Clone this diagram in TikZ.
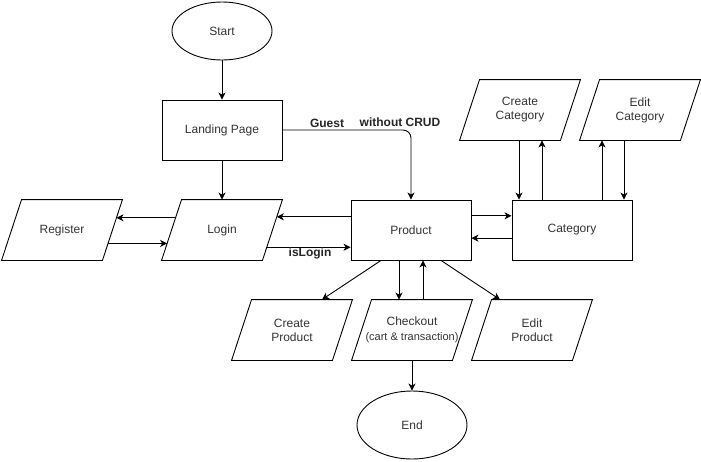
\documentclass[tikz,border=0pt]{standalone}
\usepackage{fontspec}
\setmainfont{Liberation Sans}
\usetikzlibrary{shapes.geometric,arrows.meta,calc}

\begin{document}
\begin{tikzpicture}[x=1pt,y=-1pt,
  caja/.style={draw, line width=0.9pt, minimum width=120pt, minimum height=60pt, inner sep=0pt,
    font=\fontsize{12}{14}\selectfont, text=black!80, align=center},
  datos/.style={caja, draw=none, append after command={\pgfextra{
    \draw[line width=0.9pt] (\tikzlastnode.south west) -- ([xshift=20pt]\tikzlastnode.north west)
      -- (\tikzlastnode.north east) -- ([xshift=-20pt]\tikzlastnode.south east) -- cycle;}}},
  ovalo/.style={caja, ellipse, minimum width=100pt, minimum height=58pt},
  etiqueta/.style={font=\bfseries\fontsize{12}{14}\selectfont, text=black!85, inner sep=0pt},
  flecha/.style={line width=0.9pt, -{Stealth[length=7pt,width=7pt,inset=2pt]}}]
\useasboundingbox (0,0) rectangle (701,461);

% Nodos principales
\node[ovalo] (start) at (222,31) {Start};
\node[caja] (landing) at (222,130) {Landing Page};
\node[datos] (login) at (222,230) {Login};
\node[datos] (register) at (62,230) {Register};
\node[caja] (product) at (411,230) {Product};
\node[caja] (category) at (572,230) {Category};

% Categorias arriba
\node[datos] (ccat) at (520,110) {Create\\Category};
\node[datos] (ecat) at (640,110) {Edit\\Category};

% Productos abajo
\node[datos] (cprod) at (292,330) {Create\\Product};
\node[datos] (checkout) at (412,330) {Checkout\\[1pt]{\fontsize{11}{13}\selectfont (cart \& transaction)}};
\node[datos] (eprod) at (532,330) {Edit\\Product};
\node[ovalo, minimum width=110pt, minimum height=68pt] (end) at (412,425) {End};

% Flechas de arriba
\draw[flecha] (start) -- (landing);
\draw[flecha] (landing) -- (login);
\draw[flecha, rounded corners=8pt] (landing.east) -| (product.north);
\node[etiqueta] (guest) at (327,123) {Guest};
\node[etiqueta] (crud) at (400,122) {without CRUD};

% Login y Register
\draw[flecha] ($([xshift=20pt]login.north west)!0.3!(login.south west)$) -- ($(register.north east)!0.3!([xshift=-20pt]register.south east)$);
\draw[flecha] ($(register.north east)!0.72!([xshift=-20pt]register.south east)$) -- ($([xshift=20pt]login.north west)!0.72!(login.south west)$);

% Login y Product
\draw[flecha] ($(product.north west)!0.283!(product.south west)$) -- ($(login.north east)!0.283!([xshift=-20pt]login.south east)$);
\draw[flecha] ($(login.north east)!0.783!([xshift=-20pt]login.south east)$) -- ($(product.north west)!0.783!(product.south west)$);
\node[etiqueta] (islogin) at (310,253) {isLogin};

% Product y Category
\draw[flecha] ($(product.north east)!0.267!(product.south east)$) -- ($(category.north west)!0.267!(category.south west)$);
\draw[flecha] ($(category.north west)!0.633!(category.south west)$) -- ($(product.north east)!0.633!(product.south east)$);

% Category con sus pantallas
\draw[flecha] ([xshift=-1pt]ccat.south) -- ([xshift=-1pt]ccat.south |- category.north);
\draw[flecha] ([xshift=22pt]ccat.south |- category.north) -- ([xshift=22pt]ccat.south);
\draw[flecha] ([xshift=-38pt]ecat.south |- category.north) -- ([xshift=-38pt]ecat.south);
\draw[flecha] ([xshift=-16pt]ecat.south) -- ([xshift=-16pt]ecat.south |- category.north);

% Product con sus pantallas
\draw[flecha] ([xshift=-30pt]product.south) -- ([xshift=30pt]cprod.north);
\draw[flecha] ([xshift=-12pt]product.south) -- ([xshift=-12pt]product.south |- checkout.north);
\draw[flecha] ([xshift=12pt]product.south |- checkout.north) -- ([xshift=12pt]product.south);
\draw[flecha] ([xshift=30pt]product.south) -- ([xshift=-32pt]eprod.north);
\draw[flecha] (checkout) -- (end);
\end{tikzpicture}
\end{document}
